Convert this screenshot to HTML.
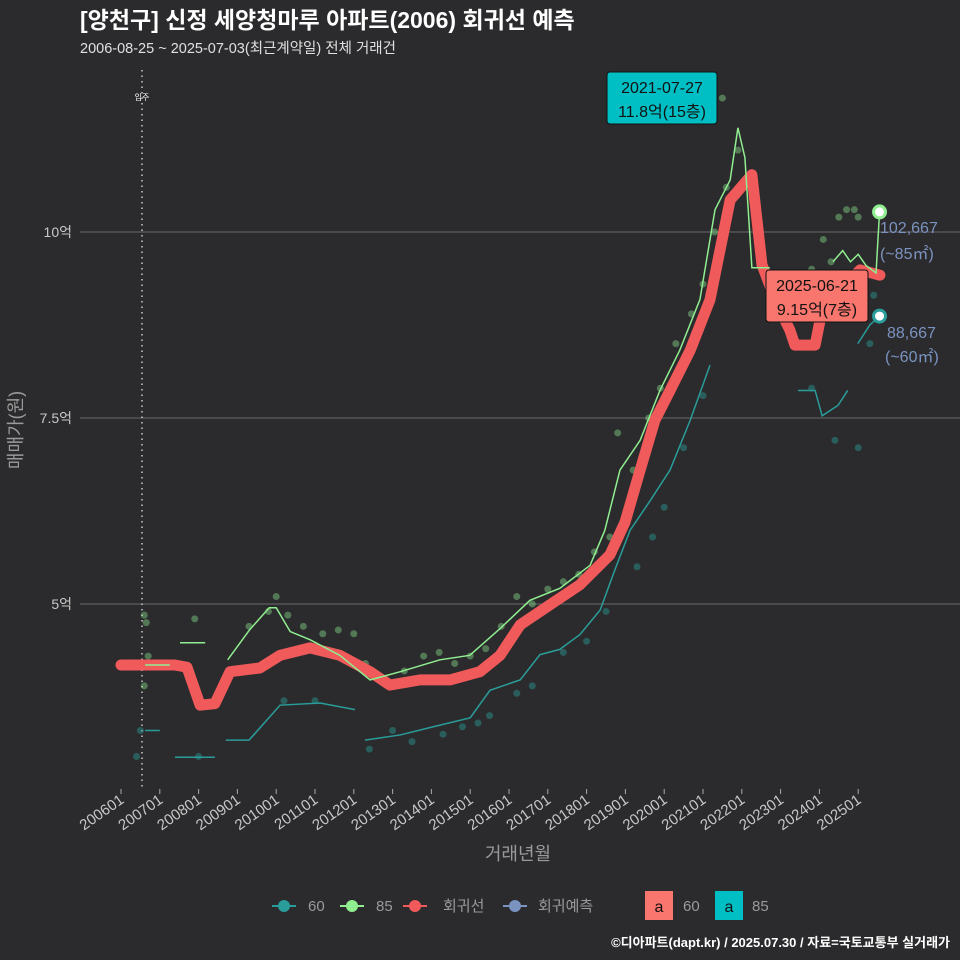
<!DOCTYPE html>
<html><head><meta charset="utf-8"><style>
html,body{margin:0;padding:0;background:#2b2b2d;}
svg{display:block;font-family:"Liberation Sans","Noto Sans CJK KR",sans-serif;}
</style></head><body>
<svg id="chart" width="960" height="960" viewBox="0 0 960 960" xmlns="http://www.w3.org/2000/svg">
<rect width="960" height="960" fill="#2b2b2d"/>
<text x="80" y="28" fill="#ffffff" font-size="23" font-weight="bold">[양천구] 신정 세양청마루 아파트(2006) 회귀선 예측</text>
<text x="80" y="53" fill="#e0e0e0" font-size="14.5">2006-08-25 ~ 2025-07-03(최근계약일) 전체 거래건</text>
<g id="grid"></g>
<g id="marks"></g>
<g id="axes"></g>
<text x="518" y="860" fill="#9a9a9a" font-size="18" text-anchor="middle">거래년월</text>
<text transform="translate(22,430) rotate(-90)" fill="#9a9a9a" font-size="18" text-anchor="middle">매매가(원)</text>
<g font-size="15" fill="#9a9a9a">
 <g><line x1="272" y1="906" x2="296" y2="906" stroke="#2a9d9a" stroke-width="2"/><circle cx="284" cy="906" r="6" fill="#2a9d9a"/><text x="308" y="911">60</text></g>
 <g><line x1="340" y1="906" x2="364" y2="906" stroke="#90ee90" stroke-width="2"/><circle cx="352" cy="906" r="6" fill="#90ee90"/><text x="376" y="911">85</text></g>
 <g><line x1="403" y1="906" x2="427" y2="906" stroke="#f05a5a" stroke-width="2"/><circle cx="415" cy="906" r="6" fill="#f05a5a"/><text x="443" y="911">회귀선</text></g>
 <g><line x1="503" y1="906" x2="527" y2="906" stroke="#7b93c0" stroke-width="2"/><circle cx="515" cy="906" r="6" fill="#7b93c0"/><text x="538" y="911">회귀예측</text></g>
 <g><rect x="645" y="891" width="28" height="29" fill="#f8766d"/><text x="659" y="912" fill="#111" text-anchor="middle" font-size="16">a</text><text x="683" y="911">60</text></g>
 <g><rect x="715" y="891" width="28" height="29" fill="#00bfc4"/><text x="729" y="912" fill="#111" text-anchor="middle" font-size="16">a</text><text x="752" y="911">85</text></g>
</g>
<text x="950" y="947" fill="#ffffff" font-size="13" font-weight="bold" text-anchor="end">©디아파트(dapt.kr) / 2025.07.30 / 자료=국토교통부 실거래가</text>
</svg>
<script>
const yTicks=[10,7.5,5];
const yTickLabels=["10억","7.5억","5억"];
const xTickYears=[2006,2007,2008,2009,2010,2011,2012,2013,2014,2015,2016,2017,2018,2019,2020,2021,2022,2023,2024,2025];
const xTickLabels=["200601","200701","200801","200901","201001","201101","201201","201301","201401","201501","201601","201701","201801","201901","202001","202101","202201","202301","202401","202501"];
const regT=[2006.0,2007.39,2007.7,2008.04,2008.42,2008.81,2009.58,2010.1,2010.87,2011.64,2012.42,2012.93,2013.71,2014.48,2015.25,2015.77,2016.29,2017.06,2017.83,2018.6,2018.99,2019.38,2019.76,2020.15,2020.67,2021.18,2021.7,2022.26,2022.52,2022.86,2023.24,2023.37,2023.89,2024.02,2024.27,2025.05,2025.56];
const regV=[4.18,4.18,4.15,3.64,3.66,4.09,4.14,4.31,4.41,4.31,4.09,3.91,3.98,3.98,4.09,4.31,4.72,4.99,5.26,5.66,6.1,6.8,7.47,7.87,8.41,9.09,10.43,10.77,9.56,9.09,8.68,8.48,8.48,8.82,9.09,9.49,9.42];
const l85T=[[2006.62,2007.26],[2007.52,2008.17],[2008.75,2009.31,2009.82,2010.0,2010.36,2010.87,2011.64,2012.42,2013.2,2014.22,2014.99,2015.77,2016.54,2017.31,2018.09,2018.47,2018.86,2019.38,2019.89,2020.4,2020.92,2021.31,2021.7,2021.9,2022.08,2022.26,2022.72],[2024.35,2024.6,2024.8,2025.0,2025.2,2025.46,2025.55]];
const l85V=[[4.18,4.18],[4.48,4.48],[4.25,4.65,4.95,4.95,4.63,4.52,4.31,3.98,4.09,4.25,4.31,4.67,5.05,5.21,5.52,5.99,6.8,7.2,7.87,8.41,9.09,10.3,10.7,11.4,11.0,9.52,9.52],[9.6,9.75,9.6,9.7,9.55,9.45,10.27]];
const l60T=[[2006.62,2007.0],[2007.39,2008.42],[2008.7,2009.3,2010.1,2011.13,2012.03],[2012.29,2013.2,2013.97,2015.0,2015.51,2016.29,2016.8,2017.31,2017.83,2018.35,2018.73,2019.12,2019.64,2020.15,2020.67,2021.18],[2023.45,2023.89,2024.07,2024.48,2024.73],[2024.99,2025.3,2025.55]];
const l60V=[[3.3,3.3],[2.94,2.94],[3.17,3.17,3.64,3.67,3.58],[3.17,3.24,3.34,3.47,3.84,3.98,4.32,4.39,4.59,4.92,5.46,5.99,6.39,6.8,7.47,8.21],[7.87,7.87,7.53,7.67,7.87],[8.5,8.75,8.87]];
const p85T=[2006.6,2006.65,2006.7,2006.6,2007.9,2009.3,2009.8,2010.0,2010.3,2010.7,2011.2,2011.6,2012.0,2012.3,2012.8,2013.3,2013.8,2014.2,2014.6,2015.0,2015.4,2015.8,2016.2,2016.6,2017.0,2017.4,2017.8,2018.2,2018.6,2018.8,2019.2,2019.6,2019.9,2020.3,2020.7,2021.0,2021.3,2021.6,2021.9,2021.5,2022.3,2024.1,2024.5,2024.7,2024.9,2025.0,2024.3,2023.8];
const p85V=[4.85,4.75,4.3,3.9,4.8,4.7,4.9,5.1,4.85,4.7,4.6,4.65,4.6,4.2,4.0,4.1,4.3,4.35,4.2,4.3,4.4,4.7,5.1,5.0,5.2,5.3,5.4,5.7,5.9,7.3,6.8,7.5,7.9,8.5,8.9,9.3,10.0,10.6,11.1,11.8,10.6,9.9,10.2,10.3,10.3,10.2,9.6,9.5];
const p60T=[2006.5,2006.4,2008.0,2010.2,2011.0,2012.4,2013.0,2013.5,2014.3,2014.8,2015.2,2015.5,2016.2,2016.6,2017.4,2018.0,2018.5,2019.3,2019.7,2020.0,2020.5,2021.0,2023.8,2024.4,2025.0,2025.3,2025.4];
const p60V=[3.3,2.95,2.95,3.7,3.7,3.05,3.3,3.15,3.25,3.35,3.4,3.5,3.8,3.9,4.35,4.5,4.9,5.5,5.9,6.3,7.1,7.8,7.9,7.2,7.1,8.5,9.15];
const endPts=[[2025.55,10.27,"#90ee90"],[2025.55,8.87,"#2a9d9a"]];

const X=t=>121+(t-2006)*38.8;
const Y=v=>232+(10-v)*74.4;
const NS="http://www.w3.org/2000/svg";
function mk(tag,parent,attrs){const e=document.createElementNS(NS,tag);for(const k in attrs)e.setAttribute(k,attrs[k]);parent.appendChild(e);return e;}
const grid=document.getElementById('grid'),marks=document.getElementById('marks'),axes=document.getElementById('axes');
yTicks.forEach((v,i)=>{
 const l=mk('line',grid,{x1:80,x2:960,y1:Y(v),y2:Y(v),stroke:'#6a6a6a','stroke-width':1});
 
 
 const t=mk('text',axes,{x:72,y:Y(v)+5,fill:'#c8c8c8','font-size':14,'text-anchor':'end'});
 t.textContent=yTickLabels[i];
 
 
});
xTickYears.forEach((yr,i)=>{
 const x=X(yr);
 const tk=mk('line',axes,{x1:x,x2:x,y1:789,y2:794,stroke:'#aaa'});
 
 
 const t=mk('text',axes,{transform:`translate(${x+4},${802}) rotate(-35)`,fill:'#c8c8c8','font-size':15,'text-anchor':'end'});
 t.textContent=xTickLabels[i];
 
 
});
const ml=mk('line',marks,{x1:142,x2:142,y1:70,y2:790,stroke:'#cccccc','stroke-width':1.5,'stroke-dasharray':'1.5,4'});


const mt=mk('text',marks,{x:142,y:100,fill:'#fff','font-size':8,'text-anchor':'middle'});
mt.textContent='입주';


p60T.forEach((t,i)=>{const c=mk('circle',marks,{cx:X(t),cy:Y(p60V[i]),r:3.5,fill:'#2a9d9a','fill-opacity':0.45});
 
 });
p85T.forEach((t,i)=>{const c=mk('circle',marks,{cx:X(t),cy:Y(p85V[i]),r:3.5,fill:'#90ee90','fill-opacity':0.4});
 
 });
const rp=mk('polyline',marks,{points:regT.map((t,i)=>X(t)+','+Y(regV[i])).join(' '),fill:'none',stroke:'#f05a5a','stroke-width':11,'stroke-linejoin':'round','stroke-linecap':'round'});


function stepPath(ts,vs){let d='';ts.forEach((t,i)=>{if(i===0)d+='M'+X(t)+','+Y(vs[i]);else d+='L'+X(t)+','+Y(vs[i]);});return d;}
l60T.forEach((ts,j)=>{const p=mk('path',marks,{d:stepPath(ts,l60V[j]),fill:'none',stroke:'#2a9d9a','stroke-width':1.5});
 
 });
l85T.forEach((ts,j)=>{const p=mk('path',marks,{d:stepPath(ts,l85V[j]),fill:'none',stroke:'#90ee90','stroke-width':1.5});
 
 });
endPts.forEach(e=>{const c=mk('circle',marks,{cx:X(e[0]),cy:Y(e[1]),r:6,fill:'#fff',stroke:e[2],'stroke-width':3});
 
 });
function box(x,y,w,h,fill,l1,l2,name){const g=mk('g',marks,{});
 
 
 mk('rect',g,{x:x,y:y,width:w,height:h,rx:3,fill:fill,stroke:'#111','stroke-width':1});
 const a=mk('text',g,{x:x+w/2,y:y+21,'text-anchor':'middle','font-size':16,fill:'#111'});a.textContent=l1;
 const b=mk('text',g,{x:x+w/2,y:y+45,'text-anchor':'middle','font-size':16,fill:'#111'});b.textContent=l2;}
box(607,72,110,52,'#00bfc4','2021-07-27','11.8억(15층)','max-annotation');
box(766,270,102,52,'#f8766d','2025-06-21','9.15억(7층)','latest-annotation');
[[880,233,'102,667'],[880,259,'(~85㎡)'],[887,338,'88,667'],[885,362,'(~60㎡)']].forEach(a=>{
 const t=mk('text',marks,{x:a[0],y:a[1],fill:'#7b93c0','font-size':16});t.textContent=a[2];
 
 });
</script>
</body></html>
